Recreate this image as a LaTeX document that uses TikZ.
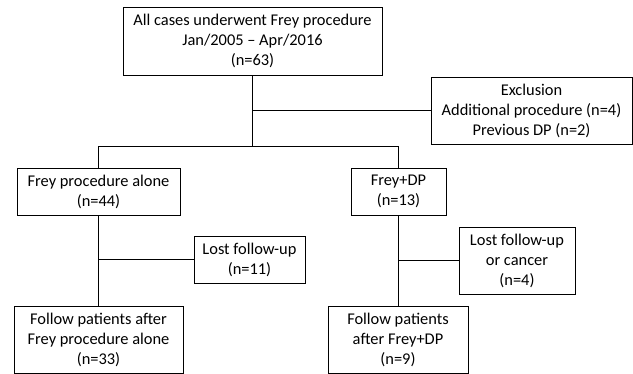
\documentclass[tikz,border=0pt]{standalone}
\usepackage{fontspec}
\setmainfont{Carlito}
\begin{document}
\begin{tikzpicture}[x=1pt,y=-1pt,
  box/.style={draw, line width=0.8pt, rectangle, inner sep=0pt, align=center,
    font=\fontsize{16.4}{20}\selectfont},
  conn/.style={line width=0.8pt}]
\useasboundingbox (0,0) rectangle (633,374);
\node[box, minimum width=259pt, minimum height=68pt] (top) at (252.5,41)
  {All cases underwent Frey procedure\\Jan/2005 -- Apr/2016\\(n=63)};
\node[box, minimum width=201pt, minimum height=67pt] (excl) at (531.5,110.5)
  {Exclusion\\Additional procedure (n=4)\\Previous DP (n=2)};
\node[box, minimum width=163pt, minimum height=47pt] (alone) at (98.5,191.5)
  {Frey procedure alone\\(n=44)};
\node[box, minimum width=95pt, minimum height=47pt] (dp) at (398.5,191.5)
  {Frey+DP\\(n=13)};
\node[box, minimum width=111pt, minimum height=47pt] (lost1) at (249.5,259.5)
  {Lost follow-up\\(n=11)};
\node[box, minimum width=116pt, minimum height=67pt] (lost2) at (517,260.5)
  {Lost follow-up\\or cancer\\(n=4)};
\node[box, minimum width=169pt, minimum height=67pt] (fol1) at (98.5,339.5)
  {Follow patients after\\Frey procedure alone\\(n=33)};
\node[box, minimum width=140pt, minimum height=67pt] (fol2) at (398,339.5)
  {Follow patients\\after Frey+DP\\(n=9)};
\coordinate (split) at (252.5,146);
\draw[conn] (top.south) -- (split);
\draw[conn] (top.south |- excl.west) -- (excl.west);
\draw[conn] (alone.north) -- (alone.north |- split) -- (dp.north |- split) -- (dp.north);
\draw[conn] (alone.south) -- (fol1.north -| alone.south);
\draw[conn] (alone.south |- lost1.west) -- (lost1.west);
\draw[conn] (dp.south) -- (fol2.north -| dp.south);
\draw[conn] (dp.south |- lost2.west) -- (lost2.west);
\end{tikzpicture}
\end{document}
